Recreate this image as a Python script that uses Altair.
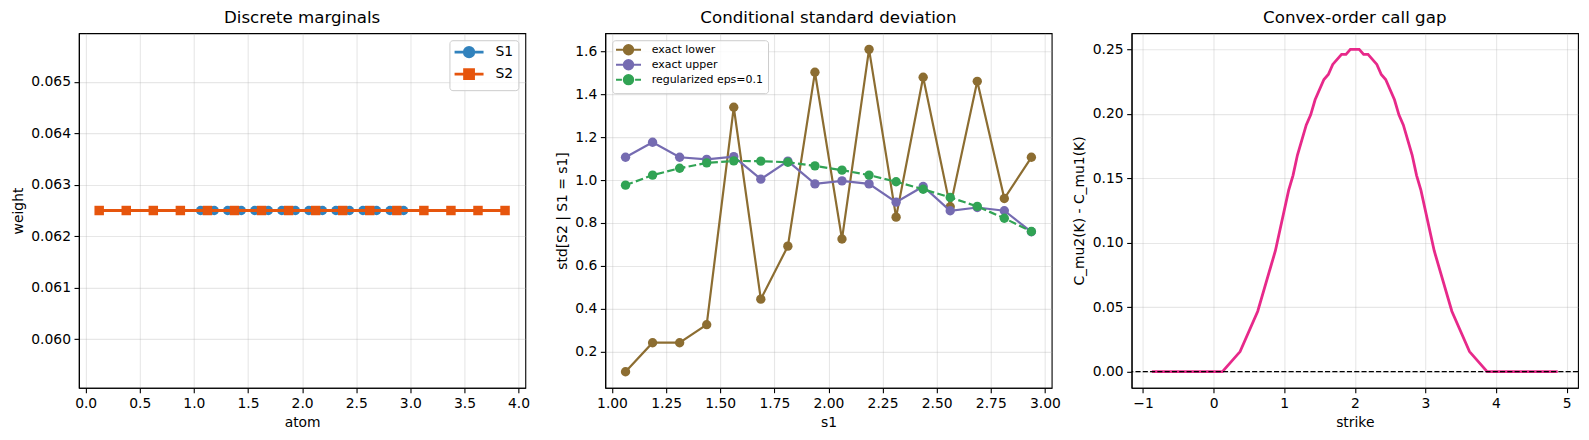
import altair as alt
import pandas as pd

FONT = "DejaVu Sans"

# ---------------- data ----------------
s1_atoms = [1.0625, 1.1875, 1.3125, 1.4375, 1.5625, 1.6875, 1.8125, 1.9375,
            2.0625, 2.1875, 2.3125, 2.4375, 2.5625, 2.6875, 2.8125, 2.9375]
s1_weights = [0.0625] * 16
s2_atoms = [0.125, 0.375, 0.625, 0.875, 1.125, 1.375, 1.625, 1.875,
            2.125, 2.375, 2.625, 2.875, 3.125, 3.375, 3.625, 3.875]
s2_weights = [0.0625] * 16

std_s1 = s1_atoms
std_lower = [0.107, 0.242, 0.242, 0.326, 1.339, 0.445, 0.692, 1.502,
             0.725, 1.609, 0.827, 1.479, 0.875, 1.460, 0.914, 1.106]
std_upper = [1.106, 1.176, 1.106, 1.096, 1.109, 1.004, 1.088, 0.982,
             0.996, 0.982, 0.897, 0.970, 0.857, 0.872, 0.857, 0.759]
std_reg = [0.976, 1.023, 1.055, 1.080, 1.089, 1.088, 1.083, 1.066,
           1.046, 1.023, 0.992, 0.957, 0.919, 0.877, 0.822, 0.760]

strikes = [-0.875, 0.125, 0.375, 0.625, 0.875, 1.0625, 1.125, 1.1875, 1.3125,
           1.375, 1.4375, 1.5625, 1.625, 1.6875, 1.8125, 1.875, 1.9375,
           2.0625, 2.125, 2.1875, 2.3125, 2.375, 2.4375, 2.5625, 2.625,
           2.6875, 2.8125, 2.875, 2.9375, 3.125, 3.375, 3.625, 3.875, 4.875]
call_gap = [0.0, 0.0, 0.0156, 0.0469, 0.0938, 0.1406, 0.1523, 0.1680, 0.1914,
            0.1992, 0.2109, 0.2266, 0.2305, 0.2383, 0.2461, 0.2461, 0.25,
            0.25, 0.2461, 0.2461, 0.2383, 0.2305, 0.2266, 0.2109, 0.1992,
            0.1914, 0.1680, 0.1523, 0.1406, 0.0938, 0.0469, 0.0156, 0.0, 0.0]
zero_level = [0.0]

x1_ticks = [0.0, 0.5, 1.0, 1.5, 2.0, 2.5, 3.0, 3.5, 4.0]
y1_ticks = [0.060, 0.061, 0.062, 0.063, 0.064, 0.065]
x2_ticks = [1.00, 1.25, 1.50, 1.75, 2.00, 2.25, 2.50, 2.75, 3.00]
y2_ticks = [0.2, 0.4, 0.6, 0.8, 1.0, 1.2, 1.4, 1.6]
x3_ticks = [-1, 0, 1, 2, 3, 4, 5]
y3_ticks = [0.00, 0.05, 0.10, 0.15, 0.20, 0.25]

marg_names = ["S1", "S2"]
marg_colors = ["#3182bd", "#e6550d"]
cond_names = ["exact lower", "exact upper", "regularized eps=0.1"]
cond_colors = ["#8c6d31", "#756bb1", "#31a354"]
gap_color = "#e7298a"

# ---------------- styling helpers ----------------
PLOT_W = 447
PLOT_H = 355


def title(t):
    return alt.TitleParams(t, font=FONT, fontSize=16.7, fontWeight="normal",
                           color="black", offset=7)


def leg_common(**kw):
    base = dict(title=None, labelFont=FONT, labelColor="black",
                strokeColor="#cccccc", fillColor="rgba(255,255,255,0.8)",
                cornerRadius=3)
    base.update(kw)
    return alt.Legend(**base)


# ---------------- panel 1 ----------------
df1 = pd.DataFrame({
    "atom": s1_atoms + s2_atoms,
    "weight": s1_weights + s2_weights,
    "series": ["S1"] * len(s1_atoms) + ["S2"] * len(s2_atoms),
})
x1 = alt.X("atom:Q", scale=alt.Scale(domain=[-0.0625, 4.0625], nice=False, zero=False),
           axis=alt.Axis(values=x1_ticks, format=".1f", title="atom"))
y1 = alt.Y("weight:Q", scale=alt.Scale(domain=[0.05906, 0.06594], nice=False, zero=False),
           axis=alt.Axis(values=y1_ticks, format=".3f", title="weight"))
base1 = alt.Chart(df1).encode(x=x1, y=y1)
layers1 = []
for name, col, shp in zip(marg_names, marg_colors, ["circle", "square"]):
    sub = base1.transform_filter(alt.datum.series == name)
    layers1.append(sub.mark_line(color=col, strokeWidth=2.8))
    layers1.append(sub.mark_point(filled=True, shape=shp, size=90, color=col, opacity=1))

circ_path = "M-2.9,0H2.9M0.95,0A0.95,0.95,0,1,1,-0.95,0A0.95,0.95,0,1,1,0.95,0Z"
sq_path = "M-2.9,0H2.9M-0.9,-0.9H0.9V0.9H-0.9Z"
leg1 = leg_common(orient="top-right", offset=7, labelFontSize=13.9, padding=5,
                  rowPadding=0, symbolSize=100, symbolStrokeWidth=2.8,
                  symbolOffset=7.7, labelOffset=19.5)
legend_layer1 = alt.Chart(df1).transform_filter("false").mark_point(
    filled=True, opacity=1, strokeWidth=2.8).encode(
    fill=alt.Fill("series:N", scale=alt.Scale(domain=marg_names, range=marg_colors), legend=leg1),
    stroke=alt.Stroke("series:N", scale=alt.Scale(domain=marg_names, range=marg_colors), legend=leg1),
    shape=alt.Shape("series:N", scale=alt.Scale(domain=marg_names, range=[circ_path, sq_path]), legend=leg1),
)
p1 = alt.layer(*layers1, legend_layer1).properties(
    width=PLOT_W, height=PLOT_H, title=title("Discrete marginals"))

# ---------------- panel 2 ----------------
df2 = pd.DataFrame({
    "s1": std_s1 * 3,
    "std": std_lower + std_upper + std_reg,
    "series": [cond_names[0]] * 16 + [cond_names[1]] * 16 + [cond_names[2]] * 16,
})
x2 = alt.X("s1:Q", scale=alt.Scale(domain=[0.96875, 3.03125], nice=False, zero=False),
           axis=alt.Axis(values=x2_ticks, format=".2f", title="s1"))
y2 = alt.Y("std:Q", scale=alt.Scale(domain=[0.032, 1.684], nice=False, zero=False),
           axis=alt.Axis(values=y2_ticks, format=".1f", title="std[S2 | S1 = s1]"))
base2 = alt.Chart(df2).encode(x=x2, y=y2)
layers2 = []
for name, col, dashed in zip(cond_names, cond_colors, [False, False, True]):
    sub = base2.transform_filter(alt.datum.series == name)
    if dashed:
        layers2.append(sub.mark_line(color=col, strokeWidth=2.2, strokeDash=[7.7, 3.3]))
    else:
        layers2.append(sub.mark_line(color=col, strokeWidth=2.2))
    layers2.append(sub.mark_point(filled=True, shape="circle", size=88, color=col, opacity=1))

# legend symbols drawn at symbolSize 36 (6 px unit box), so coordinates are scaled by 1/3 px
solid_path2 = "M-4.17,0H4.17M1.55,0A1.55,1.55,0,1,1,-1.55,0A1.55,1.55,0,1,1,1.55,0Z"
dash_path2 = "M-4.17,0H-2.2M2.2,0H4.17M1.55,0A1.55,1.55,0,1,1,-1.55,0A1.55,1.55,0,1,1,1.55,0Z"
leg2 = leg_common(orient="top-left", offset=6.5, labelFontSize=11, padding=4,
                  rowPadding=-4, symbolSize=36, symbolStrokeWidth=2.1,
                  symbolOffset=6.8, labelOffset=17.7)
legend_layer2 = alt.Chart(df2).transform_filter("false").mark_point(
    filled=True, opacity=1, strokeWidth=2.1).encode(
    fill=alt.Fill("series:N", scale=alt.Scale(domain=cond_names, range=cond_colors), legend=leg2),
    stroke=alt.Stroke("series:N", scale=alt.Scale(domain=cond_names, range=cond_colors), legend=leg2),
    shape=alt.Shape("series:N", scale=alt.Scale(domain=cond_names,
                                                range=[solid_path2, solid_path2, dash_path2]), legend=leg2),
)
p2 = alt.layer(*layers2, legend_layer2).properties(
    width=PLOT_W, height=PLOT_H, title=title("Conditional standard deviation"))

# ---------------- panel 3 ----------------
df3 = pd.DataFrame({"strike": strikes, "gap": call_gap})
df0 = pd.DataFrame({"level": zero_level})
x3 = alt.X("strike:Q", scale=alt.Scale(domain=[-1.1625, 5.1625], nice=False, zero=False),
           axis=alt.Axis(values=x3_ticks, format="d", title="strike"))
y3 = alt.Y("gap:Q", scale=alt.Scale(domain=[-0.0125, 0.2625], nice=False, zero=False),
           axis=alt.Axis(values=y3_ticks, format=".2f", title="C_mu2(K) - C_mu1(K)"))
gap_line = alt.Chart(df3).mark_line(color=gap_color, strokeWidth=2.8).encode(x=x3, y=y3)
zero_rule = alt.Chart(df0).mark_rule(color="black", strokeWidth=1.4, strokeDash=[5.1, 2.2]).encode(
    y=alt.Y("level:Q"))
p3 = alt.layer(gap_line, zero_rule).properties(
    width=PLOT_W, height=PLOT_H, title=title("Convex-order call gap"))

chart = alt.hconcat(p1, p2, p3, spacing=80, bounds="flush").resolve_scale(
    fill="independent", stroke="independent", shape="independent",
    x="independent", y="independent",
).resolve_legend(
    fill="independent", stroke="independent", shape="independent",
).properties(
    padding={"left": 10, "top": 8, "right": 9, "bottom": 8}, background="white"
).configure_view(stroke="black", strokeWidth=1.1).configure_axis(
    labelFont=FONT, titleFont=FONT, labelFontSize=13.9, titleFontSize=13.9,
    labelColor="black", titleColor="black", titleFontWeight="normal",
    tickColor="black", tickSize=4.9, tickWidth=1.1, domainColor="black", domainWidth=1.1,
    gridColor="#b0b0b0", gridOpacity=0.3, gridWidth=1.1, labelPadding=3.5, titlePadding=5.5,
)

chart.save("out.html", embed_options={"renderer": "svg", "actions": False})
